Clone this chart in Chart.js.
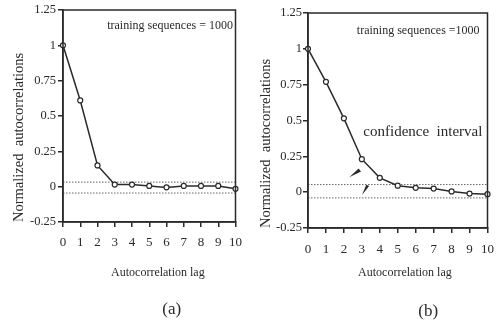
<!DOCTYPE html>
<html>
<head>
<meta charset="utf-8">
<script src="https://cdn.jsdelivr.net/npm/chart.js@4"></script>
<style>
  body { margin: 0; background: #fff; width: 503px; height: 323px; position: relative; overflow: hidden; }
  .panel { position: absolute; top: 0; height: 323px; }
</style>
</head>
<body>
<div class="panel" style="left:0;width:250px"><canvas id="chartA"></canvas></div>
<div class="panel" style="left:250px;width:253px"><canvas id="chartB"></canvas></div>
<script>
// data
const lags = [0, 1, 2, 3, 4, 5, 6, 7, 8, 9, 10];
const corrA = [1, 0.61, 0.15, 0.015, 0.015, 0.005, -0.005, 0.005, 0.005, 0.005, -0.015];
const corrB = [1, 0.77, 0.515, 0.23, 0.1, 0.045, 0.03, 0.025, 0.005, -0.01, -0.014];
const confA = [0.032, -0.045];   // upper, lower confidence bound
const confB = [0.053, -0.04];
const yRange = [-0.25, 1.25];
const yStep = 0.25;
const noteA = 'training sequences = 1000';
const noteB = 'training sequences =1000';

const serif = 'Liberation Serif';
const ink = '#2a2a2a';

// box round the plot, text notes, captions under the axis, little arrows
const decor = {
  id: 'decor',
  afterDatasetsDraw(chart, args, o) {
    const { ctx, chartArea: a, scales: { x, y } } = chart;
    ctx.save();
    ctx.strokeStyle = ink;
    ctx.lineWidth = 1.5;
    ctx.strokeRect(a.left, a.top, a.width, a.height);
    ctx.fillStyle = ink;
    ctx.textBaseline = 'middle';
    (o.texts || []).forEach(t => {
      ctx.font = t.font;
      ctx.textAlign = t.align;
      ctx.fillText(t.text, x.getPixelForValue(t.at[0]), y.getPixelForValue(t.at[1]));
    });
    // captions placed below the plot area
    (o.captions || []).forEach(t => {
      ctx.font = t.font;
      ctx.textAlign = 'center';
      ctx.fillText(t.text, x.getPixelForValue(t.lag), a.bottom + t.below);
    });
    (o.arrows || []).forEach(ar => {
      const tx = x.getPixelForValue(ar.tip[0]), ty = y.getPixelForValue(ar.tip[1]);
      const bx = x.getPixelForValue(ar.base[0]), by = y.getPixelForValue(ar.base[1]);
      const dx = bx - tx, dy = by - ty, len = Math.hypot(dx, dy);
      const nx = -dy / len * ar.half, ny = dx / len * ar.half;
      ctx.beginPath();
      ctx.moveTo(tx, ty);
      ctx.lineTo(bx + nx, by + ny);
      ctx.lineTo(bx - nx * 0.3, by - ny * 0.3);
      ctx.closePath();
      ctx.fill();
    });
    ctx.restore();
  }
};

function makePanel(id, corr, conf, cfg) {
  const series = lags.map((l, i) => ({ x: l, y: corr[i] }));
  const confLine = v => ({
    data: [{ x: lags[0], y: v }, { x: lags[lags.length - 1], y: v }],
    borderColor: '#666',
    borderWidth: 1,
    borderDash: [1.5, 1.5],
    pointRadius: 0,
    order: 2
  });
  new Chart(document.getElementById(id), {
    type: 'line',
    data: {
      datasets: [
        {
          data: series,
          borderColor: ink,
          borderWidth: 1.5,
          pointRadius: 2.5,
          pointBorderWidth: 1.2,
          pointBackgroundColor: '#fff',
          pointBorderColor: ink,
          tension: 0,
          clip: false,
          order: 1
        },
        confLine(conf[0]),
        confLine(conf[1])
      ]
    },
    options: {
      responsive: false,
      animation: false,
      devicePixelRatio: 1,
      layout: { padding: cfg.padding },
      plugins: {
        legend: { display: false },
        tooltip: { enabled: false },
        decor: { texts: cfg.texts, arrows: cfg.arrows, captions: cfg.captions }
      },
      scales: {
        x: {
          type: 'linear',
          min: lags[0],
          max: lags[lags.length - 1],
          afterFit: s => { s.height = cfg.xHeight; },
          ticks: {
            stepSize: 1,
            autoSkip: false,
            maxRotation: 0,
            padding: cfg.xTickPad,
            color: ink,
            font: { family: serif, size: 13 }
          },
          grid: { drawOnChartArea: false, tickLength: 5, color: ink, lineWidth: 1.5 },
          border: { color: ink, width: 1.5 }
        },
        y: {
          min: yRange[0],
          max: yRange[1],
          afterFit: s => { s.width = cfg.yWidth; },
          ticks: {
            stepSize: yStep,
            padding: cfg.yTickPad,
            color: ink,
            font: { family: serif, size: 12.5 },
            callback: v => String(v)
          },
          grid: { drawOnChartArea: false, tickLength: 5, color: ink, lineWidth: 1.5 },
          border: { color: ink, width: 1.5 },
          title: {
            display: true,
            text: 'Normalized  autocorrelations',
            align: 'start',
            color: ink,
            font: { family: serif, size: 14.5 },
            padding: { top: cfg.yTitlePad, bottom: 0 }
          }
        }
      }
    },
    plugins: [decor]
  });
}

const cA = document.getElementById('chartA');
cA.width = 250; cA.height = 323;
const cB = document.getElementById('chartB');
cB.width = 253; cB.height = 323;

makePanel('chartA', corrA, confA, {
  padding: { left: 0, right: 7, top: 10, bottom: 43 },
  xHeight: 58,
  xTickPad: 8,
  yWidth: 63,
  yTickPad: 2,
  yTitlePad: 10,
  texts: [{ text: noteA, at: [9.85, 1.14], align: 'right', font: '12px ' + serif }],
  captions: [
    { text: 'Autocorrelation lag', lag: 5.5, below: 51, font: '12px ' + serif },
    { text: '(a)', lag: 6.3, below: 88, font: '17px ' + serif }
  ],
  arrows: []
});

makePanel('chartB', corrB, confB, {
  padding: { left: 0, right: 12, top: 13, bottom: 43 },
  xHeight: 52,
  xTickPad: 9,
  yWidth: 58,
  yTickPad: 1,
  yTitlePad: 7,
  texts: [
    { text: noteB, at: [9.56, 1.125], align: 'right', font: '12px ' + serif },
    { text: 'confidence  interval', at: [6.4, 0.42], align: 'center', font: '15px ' + serif }
  ],
  captions: [
    { text: 'Autocorrelation lag', lag: 5.4, below: 45, font: '12px ' + serif },
    { text: '(b)', lag: 6.7, below: 84, font: '17px ' + serif }
  ],
  arrows: [
    { tip: [2.3, 0.104], base: [2.85, 0.16], half: 3 },
    { tip: [3.01, -0.02], base: [3.28, 0.05], half: 2.5 }
  ]
});
</script>
</body>
</html>
